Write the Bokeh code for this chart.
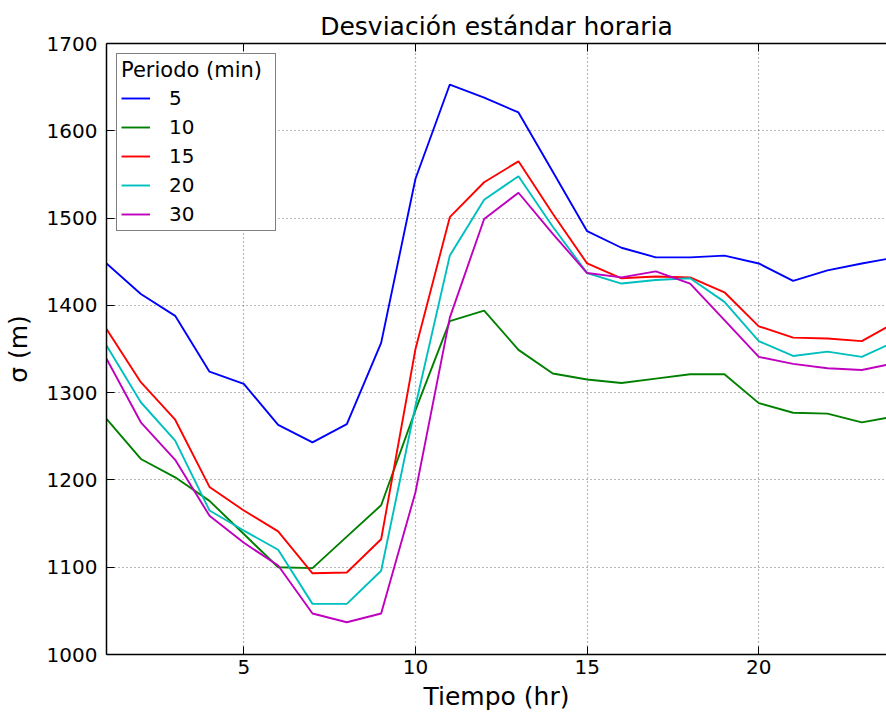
from bokeh.plotting import figure
from bokeh.models import Range1d, FixedTicker, LinearAxis, Legend, LegendItem
from bokeh.embed import file_html
from bokeh.resources import INLINE

# ---- data ----
hours = list(range(1, 25))
periods = ["5", "10", "15", "20", "30"]
sigma_5 = [1448, 1413, 1388, 1324, 1310, 1263, 1243, 1264, 1357, 1545, 1653, 1638,
           1621, 1553, 1485, 1466, 1455, 1455, 1457, 1448, 1428, 1440, 1448, 1455]
sigma_10 = [1270, 1224, 1203, 1176, 1138, 1100, 1099, 1135, 1171, 1280, 1382, 1394,
            1349, 1322, 1315, 1311, 1316, 1321, 1321, 1288, 1277, 1276, 1266, 1273]
sigma_15 = [1373, 1312, 1269, 1192, 1165, 1141, 1093, 1094, 1132, 1350, 1501, 1541,
            1565, 1505, 1448, 1431, 1433, 1432, 1415, 1376, 1363, 1362, 1359, 1381]
sigma_20 = [1354, 1289, 1245, 1165, 1142, 1120, 1058, 1058, 1096, 1285, 1457, 1521,
            1548, 1490, 1437, 1425, 1429, 1431, 1404, 1359, 1342, 1347, 1341, 1359]
sigma_30 = [1339, 1266, 1223, 1159, 1128, 1102, 1047, 1037, 1047, 1186, 1386, 1499,
            1529, 1482, 1437, 1432, 1439, 1425, 1383, 1341, 1333, 1328, 1326, 1334]
series = [sigma_5, sigma_10, sigma_15, sigma_20, sigma_30]
colors = ["#0000ff", "#008000", "#ff0000", "#00bfbf", "#bf00bf"]
x_ticks = [5, 10, 15, 20]
y_ticks = [1000, 1100, 1200, 1300, 1400, 1500, 1600, 1700]

FONT = "DejaVu Sans"

p = figure(width=886, height=713, output_backend="svg", toolbar_location=None,
           x_range=Range1d(1, 23.72), y_range=Range1d(1000, 1700),
           min_border_left=106, min_border_right=0, min_border_top=43,
           min_border_bottom=59,
           x_axis_label="Tiempo (hr)", y_axis_label="σ (m)")
p.outline_line_color = None
p.background_fill_color = "white"
p.border_fill_color = "white"

p.title.text = "Desviación estándar horaria"
p.title.align = "center"
p.title.text_font = FONT
p.title.text_font_size = "25px"
p.title.text_font_style = "normal"
p.title.text_color = "black"
p.title.standoff = 5
p.title.offset = 10

# top spine with inward ticks (labels not drawn)
top_axis = LinearAxis(ticker=FixedTicker(ticks=x_ticks))
p.add_layout(top_axis, "above")

for ax in p.xaxis:
    ax.ticker = FixedTicker(ticks=x_ticks)
for ax in p.yaxis:
    ax.ticker = FixedTicker(ticks=y_ticks)

for ax in list(p.xaxis) + list(p.yaxis):
    ax.axis_line_color = "black"
    ax.axis_line_width = 1.5
    ax.major_tick_in = 8
    ax.major_tick_out = 0
    ax.major_tick_line_color = "black"
    ax.major_tick_line_width = 1
    ax.minor_tick_line_color = None
    ax.major_label_text_font = FONT
    ax.major_label_text_font_size = "20px"
    ax.major_label_text_color = "black"
    ax.axis_label_text_font = FONT
    ax.axis_label_text_font_size = "25px"
    ax.axis_label_text_font_style = "normal"
    ax.axis_label_text_color = "black"

top_axis.major_label_text_font_size = "1px"
top_axis.major_label_text_color = None
top_axis.major_label_standoff = 0
top_axis.axis_label = None

p.xaxis[0].major_label_standoff = 6
p.xaxis[0].axis_label_standoff = -7
p.yaxis[0].major_label_standoff = 9
p.yaxis[0].axis_label_standoff = 11

p.grid.grid_line_color = "black"
p.grid.grid_line_alpha = 0.55
p.grid.grid_line_dash = "1 3"
p.grid.grid_line_width = 1.2
p.xgrid.ticker = FixedTicker(ticks=x_ticks)
p.ygrid.ticker = FixedTicker(ticks=y_ticks)

items = []
for name, vals, col in zip(periods, series, colors):
    r = p.line(hours, vals, line_color=col, line_width=1.9)
    items.append(LegendItem(label=name, renderers=[r]))

legend = Legend(items=items, location="top_left", title="Periodo (min)")
legend.border_line_color = "black"
legend.border_line_width = 1.5
legend.background_fill_color = "white"
legend.background_fill_alpha = 1
legend.title_text_font = FONT
legend.title_text_font_size = "21px"
legend.title_text_font_style = "normal"
legend.title_text_color = "black"
legend.title_standoff = 4
legend.label_text_font = FONT
legend.label_text_font_size = "20px"
legend.label_text_color = "black"
legend.glyph_width = 29
legend.glyph_height = 20
legend.label_height = 20
legend.label_width = 102
legend.spacing = 5
legend.padding = 4
legend.margin = 10
legend.label_standoff = 19
p.add_layout(legend)

open("out.html", "w").write(file_html(p, INLINE))
